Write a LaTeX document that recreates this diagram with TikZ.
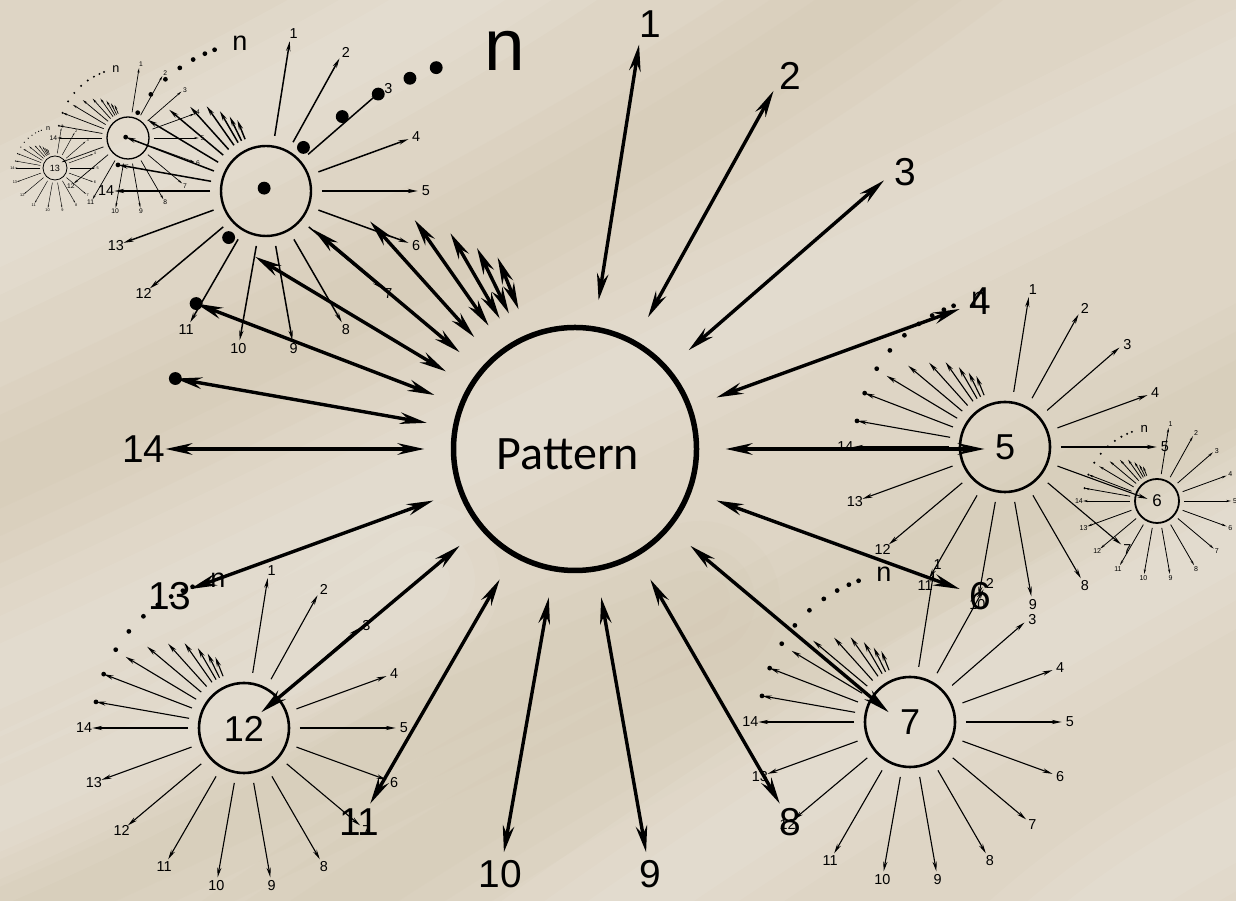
\documentclass[tikz,border=0pt]{standalone}
\usepackage{fontspec}
\setmainfont{Liberation Sans}
\newfontfamily\patfont{Carlito}
\usetikzlibrary{arrows.meta}
\definecolor{sand}{RGB}{222,213,197}
\definecolor{sandlight}{RGB}{242,239,233}
\definecolor{sanddark}{RGB}{205,190,163}
\newcommand{\fsz}[1]{\fontsize{#1pt}{#1pt}\selectfont}
\newif\ifsundouble
\def\alw{1.1}
\def\clw{2.6}
% #1 name, #2 centre, #3 radius, #4 centre text, #5 macro holding list angle/label
\newcommand{\drawsun}[5]{%
  \begin{scope}[shift={#2}]
    \pgfmathsetmacro\sunR{#3}%
    \pgfmathsetmacro\sunhl{0.22*\sunR}%
    \pgfmathsetmacro\sunhw{0.095*\sunR}%
    \pgfmathsetmacro\sunlf{0.32*\sunR}%
    \pgfmathsetmacro\sunnf{0.6*\sunR}%
    \pgfmathsetmacro\suncf{0.8*\sunR}%
    \pgfmathsetmacro\sundr{0.053*\sunR}%
    \ifsundouble
      \tikzset{sunarr/.style={line width=\alw pt,{Stealth[length=\sunhl pt,width=\sunhw pt]}-{Stealth[length=\sunhl pt,width=\sunhw pt]}}}%
    \else
      \tikzset{sunarr/.style={line width=\alw pt,-{Stealth[length=\sunhl pt,width=\sunhw pt]}}}%
    \fi
    \draw[line width=\clw pt] (0,0) circle[radius=\sunR];
    \foreach \a in {81,61,41,20,0,-20,-40,-60,-80,-100,-120,-140,-160,180}
      \draw[sunarr] (\a:{1.24*\sunR}) -- (\a:{3.37*\sunR});
    \foreach \a/\lab in #5
      \node[font=\fsz{\sunlf}, inner sep=0pt] (#1-\lab) at (\a:{3.55*\sunR}) {\lab};
    \foreach \a/\l in {170/3.34,159/3.34,149/3.07,140/2.81,132/2.52,125/2.30,120/2.05,116/1.84,112/1.70}
      \draw[sunarr] (\a:{1.24*\sunR}) -- (\a:{\l*\sunR});
    \foreach \a in {170,159,148.6,140,132,125,119,114,110}
      \fill (\a:{3.34*\sunR}) circle[radius=\sundr];
    \node[font=\fsz{\sunnf}, inner sep=0pt] (#1-n) at (100:{3.33*\sunR}) {n};
  \end{scope}%
}
\def\alllabs{80/1,60/2,40/3,20/4,0/5,-20/6,-40/7,-60/8,-80/9,-100/10,-120/11,-140/12,-160/13,180/14}
\def\mainlabs{80/1,60/2,40/3,20/4,-20/6,-60/8,-80/9,-100/10,-120/11,-160/13,180/14}
\def\fivelabs{80/1,60/2,40/3,20/4,0/5,-40/7,-60/8,-80/9,-100/10,-120/11,-140/12,-160/13,180/14}
\def\blabs{80/1,60/2,40/3,20/4,0/5,-20/6,-40/7,-60/8,-80/9,-100/10,-120/11,-140/12,180/14}
\begin{document}
\begin{tikzpicture}[x=1pt,y=1pt]
\useasboundingbox (0,0) rectangle (1236,901);
\clip (0,0) rectangle (1236,901);
% sand background
\fill[sand] (0,0) rectangle (1236,901);
\begin{scope}[line cap=round]
  \foreach \w in {160,110,60}{
    \draw[sanddark, line width=\w pt, opacity=.09] (-100,380) .. controls (300,560) and (700,760) .. (1000,1000);
    \draw[sanddark, line width=\w pt, opacity=.08] (200,-100) .. controls (500,120) and (900,330) .. (1336,560);
    \draw[sanddark, line width=\w pt, opacity=.08] (-100,-60) .. controls (200,60) and (400,180) .. (700,300);
    \draw[sandlight, line width=\w pt, opacity=.12] (-100,620) .. controls (200,760) and (400,860) .. (600,1000);
    \draw[sandlight, line width=\w pt, opacity=.11] (-100,180) .. controls (400,400) and (800,620) .. (1336,880);
    \draw[sandlight, line width=\w pt, opacity=.11] (500,-100) .. controls (800,120) and (1050,260) .. (1336,420);
    \draw[sandlight, line width=\w pt, opacity=.10] (1000,-100) .. controls (1100,0) and (1200,60) .. (1336,120);
    \draw[sandlight, line width=\w pt, opacity=.10] (-100,40) .. controls (100,120) and (250,200) .. (420,320);
  }
\end{scope}
% main pattern
\sundoubletrue \def\alw{3.4}\def\clw{5.5}
\drawsun{main}{(575,452)}{121.5}{}{\mainlabs}
\node[font=\patfont\fsz{48}, inner sep=0pt] (pattern) at (568,447) {Pattern};
% satellites
\sundoublefalse \def\alw{1.1}\def\clw{2.6}
\drawsun{s5}{(1005,454)}{45}{}{\fivelabs}
\node[font=\fsz{36}, inner sep=0pt] (c5) at (1005,454) {5};
\drawsun{s7}{(910,179)}{45}{}{\alllabs}
\node[font=\fsz{36}, inner sep=0pt] (c7) at (910,179) {7};
\drawsun{s12}{(244,173)}{45}{}{\alllabs}
\node[font=\fsz{36}, inner sep=0pt] (c12) at (244,172) {12};
\def\alw{1.5}\def\clw{2.4}
\drawsun{sA}{(266,710)}{45}{}{\alllabs}
\def\alw{0.8}\def\clw{1.8}
\drawsun{s6}{(1157,400)}{22}{}{\alllabs}
\node[font=\fsz{17}, inner sep=0pt] (c6) at (1157,400) {6};
\def\alw{0.7}\def\clw{1.3}
\drawsun{sB}{(128,763)}{21}{}{\blabs}
\def\alw{0.45}\def\clw{0.8}
\drawsun{sC}{(55,733)}{12}{}{\alllabs}
\node[font=\fsz{9}, inner sep=0pt] (c13) at (55,733) {13};
\end{tikzpicture}
\end{document}
